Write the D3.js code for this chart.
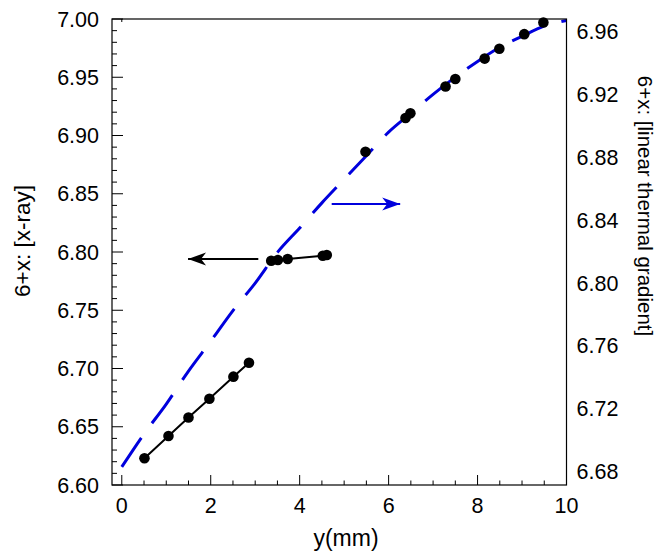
<!DOCTYPE html>
<html>
<head>
<meta charset="utf-8">
<script src="https://cdn.jsdelivr.net/npm/d3@7/dist/d3.min.js"></script>
<style>
  html, body { margin: 0; padding: 0; background: #fff; }
  svg { display: block; font-family: "Liberation Sans", Arial, sans-serif; }
  .tick-label { font-size: 21.5px; fill: #000; }
  .axis-title { fill: #000; }
</style>
</head>
<body>
<svg id="chart" width="658" height="554"></svg>
<script>
// Position along the sample, mm
const xTicks = [0, 2, 4, 6, 8, 10];
const leftTicks = [6.60, 6.65, 6.70, 6.75, 6.80, 6.85, 6.90, 6.95, 7.00];
const rightTicks = [6.68, 6.72, 6.76, 6.80, 6.84, 6.88, 6.92, 6.96];

// X-ray composition, three measured segments
const lowerY = [0.51, 1.05, 1.50, 1.97, 2.51, 2.86];
const lowerX = [6.623, 6.642, 6.658, 6.674, 6.693, 6.705];
const middleY = [3.36, 3.51, 3.73, 4.52, 4.61];
const middleX = [6.7925, 6.7931, 6.794, 6.7968, 6.7974];
const upperY = [5.48, 6.38, 6.49, 7.28, 7.50, 8.16, 8.49, 9.05, 9.48];
const upperX = [6.886, 6.915, 6.919, 6.942, 6.9485, 6.966, 6.9745, 6.987, 6.997];

// Composition expected from a linear thermal gradient (right axis)
const gradY = [0, 0.5, 1, 1.5, 2, 2.5, 3, 3.5, 4, 4.5, 5, 5.5, 6, 6.5, 7, 7.5, 8, 8.5, 9, 9.5, 10];
const gradX = [6.683, 6.704, 6.723, 6.744, 6.763, 6.7825, 6.800, 6.8195, 6.835, 6.851, 6.866,
               6.881, 6.896, 6.908, 6.920, 6.931, 6.941, 6.950, 6.957, 6.9635, 6.967];

const W = 658, H = 554;
const m = { left: 112, right: 91.5, top: 19, bottom: 69 };
const iw = W - m.left - m.right, ih = H - m.top - m.bottom;

const svg = d3.select("#chart");
const g = svg.append("g").attr("transform", `translate(${m.left},${m.top})`);

const x = d3.scaleLinear().domain([-0.22, 10]).range([0, iw]);
const yL = d3.scaleLinear().domain([6.60, 7.00]).range([ih, 0]);
const yR = d3.scaleLinear().domain([6.6715, 6.968]).range([ih, 0]);

// Arrow heads
const defs = svg.append("defs");
function head(id, color) {
  defs.append("marker")
    .attr("id", id).attr("viewBox", "-20 -8 22 16")
    .attr("refX", 0).attr("refY", 0)
    .attr("markerUnits", "userSpaceOnUse")
    .attr("markerWidth", 22).attr("markerHeight", 16)
    .attr("orient", "auto")
    .append("path")
    .attr("d", "M0,0 L-18,-6.5 L-13,0 L-18,6.5 Z")
    .attr("fill", color);
}
head("headBlack", "#000");
head("headBlue", "#0000dd");

// Axes: inward ticks, major and minor
const minorX = d3.range(0, 10.001, 0.5);
const minorL = d3.range(6.60, 7.0001, 0.01);

const axisG = g.append("g");
axisG.selectAll(".mx").data(minorX).join("line")
  .attr("x1", d => x(d)).attr("x2", d => x(d))
  .attr("y1", ih).attr("y2", d => ih - (xTicks.some(t => Math.abs(t - d) < 1e-6) ? 10 : 4.5))
  .attr("stroke", "#000").attr("stroke-width", 1);
axisG.selectAll(".ml").data(minorL).join("line")
  .attr("y1", d => yL(d)).attr("y2", d => yL(d))
  .attr("x1", 0).attr("x2", d => (leftTicks.some(t => Math.abs(t - d) < 1e-6) ? 11 : 5))
  .attr("stroke", "#000").attr("stroke-width", 1);
// small mark on the top edge at y = 0
axisG.append("line").attr("x1", x(0)).attr("x2", x(0)).attr("y1", 0).attr("y2", 3)
  .attr("stroke", "#000").attr("stroke-width", 1);

// Tick labels
g.selectAll(".xl").data(xTicks).join("text")
  .attr("class", "tick-label")
  .attr("x", d => x(d)).attr("y", ih + 28)
  .attr("text-anchor", "middle")
  .text(d => d3.format("d")(d));
g.selectAll(".ll").data(leftTicks).join("text")
  .attr("class", "tick-label")
  .attr("x", -13).attr("y", d => yL(d)).attr("dy", "0.35em")
  .attr("text-anchor", "end")
  .text(d => d3.format(".2f")(d));
g.selectAll(".rl").data(rightTicks).join("text")
  .attr("class", "tick-label")
  .attr("x", iw + 10).attr("y", d => yR(d)).attr("dy", "0.35em")
  .attr("text-anchor", "start")
  .text(d => d3.format(".2f")(d));

// Axis titles
svg.append("text").attr("class", "axis-title").style("font-size", "23px")
  .attr("x", 346).attr("y", 546).attr("text-anchor", "middle").text("y(mm)");
svg.append("text").attr("class", "axis-title").style("font-size", "22.5px")
  .attr("transform", "translate(30,241) rotate(-90)")
  .attr("text-anchor", "middle").text("6+x: [x-ray]");
svg.append("text").attr("class", "axis-title").style("font-size", "20.5px")
  .attr("transform", "translate(638,206) rotate(90)")
  .attr("text-anchor", "middle").text("6+x: [linear thermal gradient]");

// Gradient curve (dashed, right axis)
const gradLine = d3.line().x(d => x(d[0])).y(d => yR(d[1])).curve(d3.curveMonotoneX);
g.append("path")
  .datum(gradY.map((d, i) => [d, gradX[i]]))
  .attr("d", gradLine)
  .attr("fill", "none").attr("stroke", "#0000dd")
  .attr("stroke-width", 3).attr("stroke-dasharray", "35,18");

// X-ray data (left axis)
const xrLine = d3.line().x(d => x(d[0])).y(d => yL(d[1]));
const lower = lowerY.map((d, i) => [d, lowerX[i]]);
const middle = middleY.map((d, i) => [d, middleX[i]]);
const upper = upperY.map((d, i) => [d, upperX[i]]);
[lower, middle].forEach(seg => {
  g.append("path").datum(seg).attr("d", xrLine)
    .attr("fill", "none").attr("stroke", "#000").attr("stroke-width", 2);
});
g.selectAll(".dot").data(lower.concat(middle, upper)).join("circle")
  .attr("cx", d => x(d[0])).attr("cy", d => yL(d[1])).attr("r", 5.3)
  .attr("fill", "#000");

// Arrows pointing at each series' axis
g.append("line")
  .attr("x1", x(3.07)).attr("x2", x(1.49))
  .attr("y1", yL(6.794)).attr("y2", yL(6.794))
  .attr("stroke", "#000").attr("stroke-width", 2)
  .attr("marker-end", "url(#headBlack)");
g.append("line")
  .attr("x1", x(4.72)).attr("x2", x(6.26))
  .attr("y1", yR(6.8503)).attr("y2", yR(6.8503))
  .attr("stroke", "#0000dd").attr("stroke-width", 2)
  .attr("marker-end", "url(#headBlue)");

// Frame
g.append("rect").attr("x", 0).attr("y", 0).attr("width", iw).attr("height", ih)
  .attr("fill", "none").attr("stroke", "#000").attr("stroke-width", 1.2);
</script>
</body>
</html>
